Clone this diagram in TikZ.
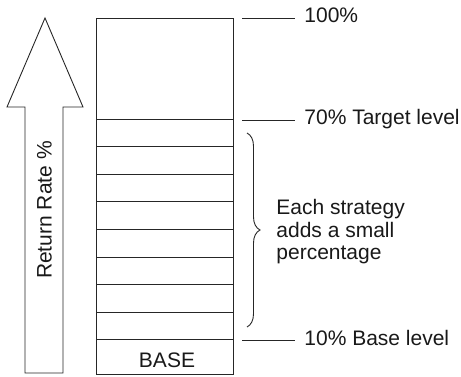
\documentclass[tikz,border=0pt]{standalone}
\usepackage{fontspec}
\setmainfont{Liberation Sans}
\usetikzlibrary{decorations.pathreplacing}

\begin{document}
\begin{tikzpicture}[x=1pt,y=-1pt,line width=0.9pt,
        lbl/.style={inner sep=0pt,text=black!90,font=\fontsize{21}{22.5}\selectfont},
        tick/.style={draw=black!85,shorten >=9pt}]
    \useasboundingbox (0,0) rectangle (461,377);
    % big arrow on the left
    \draw [black!85] (45,18) -- (83,107) -- (63,107) -- (63,373) -- (25,373) -- (25,107) -- (7,107) -- cycle;
    \node [lbl, rotate=90] (rate) at (44.5,210) {Return Rate \%};
    % stack of strategies
    \draw [black!85] (96,18) rectangle (233,374);
    \foreach \k in {0,...,8}
        \draw [black!85] (96,119.3+27.55*\k) -- (233,119.3+27.55*\k);
    \node [lbl, anchor=base] (base) at (167,367) {BASE};
    % levels
    \node [lbl, anchor=base west] (full) at (304,23) {100\%};
    \node [lbl, anchor=base west] (target) at (304,125) {70\% Target level};
    \node [lbl, anchor=base west] (baselvl) at (304,345) {10\% Base level};
    \coordinate (tfull) at (242,18);
    \coordinate (ttarget) at (242,120);
    \coordinate (tbase) at (242,340);
    \draw [tick] (tfull) -- (tfull -| full.west);
    \draw [tick] (ttarget) -- (ttarget -| target.west);
    \draw [tick] (tbase) -- (tbase -| baselvl.west);
    % brace with note
    \draw [black!85, decorate, decoration={brace, amplitude=13pt}] (247,133) -- (247,327);
    \node [lbl, anchor=west, align=left] (note) at (276,232) {Each strategy\\adds a small\\percentage};
\end{tikzpicture}
\end{document}
